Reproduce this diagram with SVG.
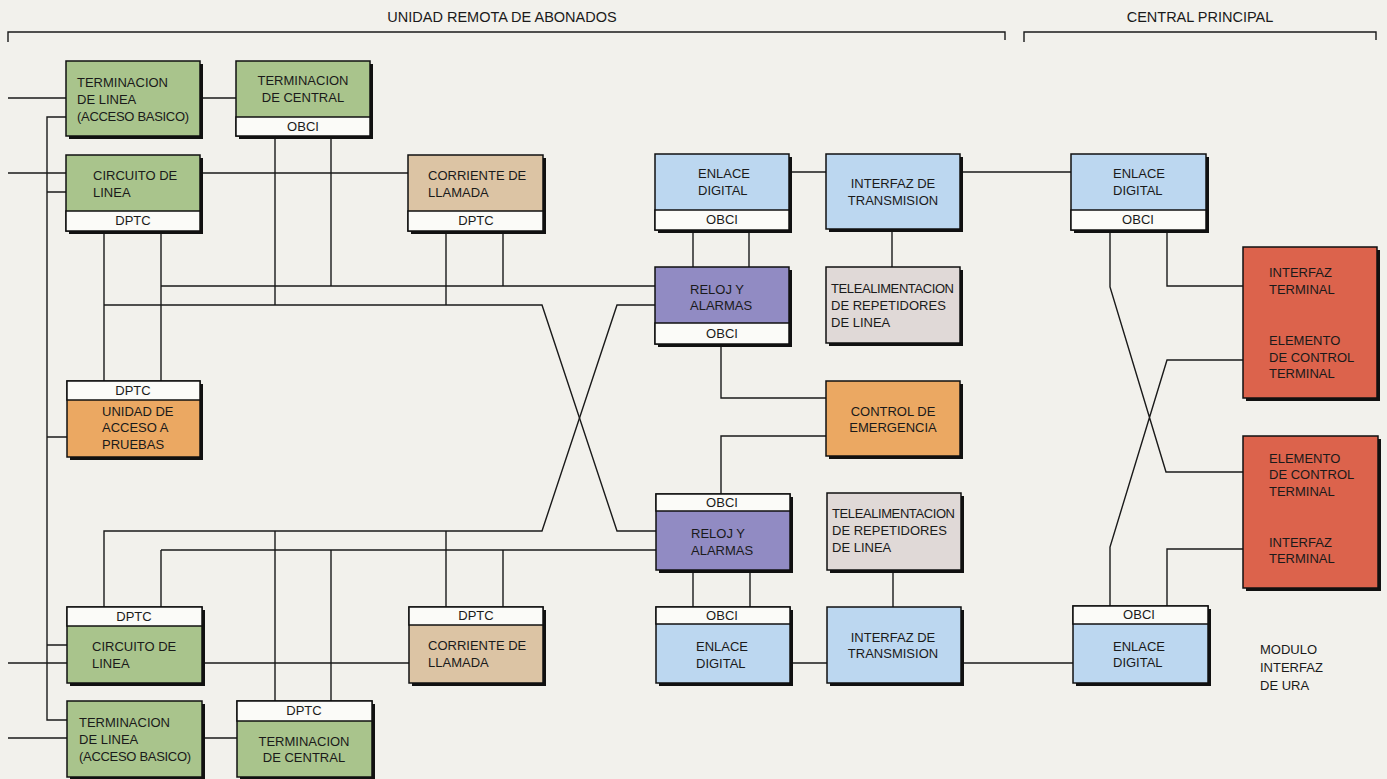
<svg xmlns="http://www.w3.org/2000/svg" width="1387" height="779" viewBox="0 0 1387 779">
<style>
.sh{fill:#111}
.bx{stroke:#111;stroke-width:1.5}
.st{fill:#fbfbf8;stroke:#111;stroke-width:1.5}
.gr{fill:#a9c48c}.tn{fill:#dcc4a4}.bl{fill:#bcd7f0}.pu{fill:#918bc3}.gy{fill:#e0d9d7}.or{fill:#eba862}.rd{fill:#dc634c}
.t{font-family:'Liberation Sans',Arial,sans-serif;font-size:13px;fill:#1a1a1a}
.c{text-anchor:middle}
.h{font-family:'Liberation Sans',Arial,sans-serif;font-size:14.5px;fill:#1a1a1a}
.ln{fill:none;stroke:#1a1a1a;stroke-width:1.4}
</style>
<rect width="1387" height="779" fill="#f2f1ec"/>

<g id="headers">
<path class="ln" d="M8 42V32H1005V40M1024 42V32H1376V40" stroke-width="1.8"/>
<text class="h c" x="502" y="22">UNIDAD REMOTA DE ABONADOS</text>
<text class="h c" x="1200" y="22">CENTRAL PRINCIPAL</text>
</g>

<g id="connectors" class="ln">
<path d="M8 98H66M200 98H236M8 173H66M200 173H408"/>
<path d="M66 117H47V720H67M47 192H66M47 437H67M47 645H67"/>
<path d="M104 231V381M161 231V381"/>
<path d="M104 305H542L617 531H656"/>
<path d="M655 305H617L542 531H104V607"/>
<path d="M161 286H655M161 550H656M161 550V607"/>
<path d="M275 136V305M331 136V286M446 231V305M503 231V286"/>
<path d="M275 531V701M331 550V701M446 531V607M503 550V607"/>
<path d="M8 663H67M202 663H409M8 738H67M202 738H237"/>
<path d="M693 230V267M749 230V267M789 172H826M892 229V267M960 172H1071"/>
<path d="M721 344V398H826M826 436H721V494"/>
<path d="M693 570V607M750 570V607M893 570V607M790 663H827M961 663H1073"/>
<path d="M1167 230V286H1243M1110 230V287L1166 472H1243M1243 360H1167L1110 547V606M1243 549H1167V606"/>
</g>

<g id="n1">
<rect class="sh" x="69" y="64" width="134" height="75"/>
<rect class="bx gr" x="66" y="61" width="134" height="75"/>
<text class="t" x="77" y="87">TERMINACION</text>
<text class="t" x="77" y="104">DE LINEA</text>
<text class="t" x="77" y="121" letter-spacing="-0.3">(ACCESO BASICO)</text>
</g>
<g id="n2">
<rect class="sh" x="239" y="64" width="134" height="75"/>
<rect class="bx gr" x="236" y="61" width="134" height="75"/>
<rect class="st" x="236" y="117" width="134" height="19"/>
<text class="t c" x="303" y="85">TERMINACION</text>
<text class="t c" x="303" y="102">DE CENTRAL</text>
<text class="t c" x="303" y="131">OBCI</text>
</g>
<g id="n3">
<rect class="sh" x="69" y="158" width="134" height="76"/>
<rect class="bx gr" x="66" y="155" width="134" height="76"/>
<rect class="st" x="66" y="211" width="134" height="20"/>
<text class="t" x="93" y="180">CIRCUITO DE</text>
<text class="t" x="93" y="197">LINEA</text>
<text class="t c" x="133" y="225">DPTC</text>
</g>
<g id="n4">
<rect class="sh" x="411" y="158" width="135" height="76"/>
<rect class="bx tn" x="408" y="155" width="135" height="76"/>
<rect class="st" x="408" y="211" width="135" height="20"/>
<text class="t" x="428" y="180">CORRIENTE DE</text>
<text class="t" x="428" y="197">LLAMADA</text>
<text class="t c" x="476" y="225">DPTC</text>
</g>
<g id="n5">
<rect class="sh" x="658" y="157" width="134" height="76"/>
<rect class="bx bl" x="655" y="154" width="134" height="76"/>
<rect class="st" x="655" y="210" width="134" height="20"/>
<text class="t" x="698" y="178">ENLACE</text>
<text class="t" x="698" y="195">DIGITAL</text>
<text class="t c" x="722" y="224">OBCI</text>
</g>
<g id="n6">
<rect class="sh" x="829" y="157" width="134" height="75"/>
<rect class="bx bl" x="826" y="154" width="134" height="75"/>
<text class="t c" x="893" y="188">INTERFAZ DE</text>
<text class="t c" x="893" y="205">TRANSMISION</text>
</g>
<g id="n7">
<rect class="sh" x="1074" y="157" width="135" height="76"/>
<rect class="bx bl" x="1071" y="154" width="135" height="76"/>
<rect class="st" x="1071" y="210" width="135" height="20"/>
<text class="t" x="1113" y="178">ENLACE</text>
<text class="t" x="1113" y="195">DIGITAL</text>
<text class="t c" x="1138" y="224">OBCI</text>
</g>
<g id="n8">
<rect class="sh" x="658" y="270" width="134" height="77"/>
<rect class="bx pu" x="655" y="267" width="134" height="77"/>
<rect class="st" x="655" y="323" width="134" height="21"/>
<text class="t" x="690" y="294">RELOJ Y</text>
<text class="t" x="690" y="310">ALARMAS</text>
<text class="t c" x="722" y="338">OBCI</text>
</g>
<g id="n9">
<rect class="sh" x="829" y="270" width="134" height="76"/>
<rect class="bx gy" x="826" y="267" width="134" height="76"/>
<text class="t" x="831" y="293" textLength="123">TELEALIMENTACION</text>
<text class="t" x="831" y="310">DE REPETIDORES</text>
<text class="t" x="831" y="327">DE LINEA</text>
</g>
<g id="n10">
<rect class="sh" x="1246" y="250" width="134" height="151"/>
<rect class="bx rd" x="1243" y="247" width="134" height="151"/>
<text class="t" x="1269" y="277">INTERFAZ</text>
<text class="t" x="1269" y="294">TERMINAL</text>
<text class="t" x="1269" y="345">ELEMENTO</text>
<text class="t" x="1269" y="362">DE CONTROL</text>
<text class="t" x="1269" y="378">TERMINAL</text>
</g>
<g id="n11">
<rect class="sh" x="70" y="384" width="133" height="76"/>
<rect class="bx or" x="67" y="381" width="133" height="76"/>
<rect class="st" x="67" y="381" width="133" height="19"/>
<text class="t c" x="133" y="395">DPTC</text>
<text class="t" x="102" y="416">UNIDAD DE</text>
<text class="t" x="102" y="432">ACCESO A</text>
<text class="t" x="102" y="449">PRUEBAS</text>
</g>
<g id="n12">
<rect class="sh" x="829" y="384" width="134" height="75"/>
<rect class="bx or" x="826" y="381" width="134" height="75"/>
<text class="t c" x="893" y="416">CONTROL DE</text>
<text class="t c" x="893" y="432">EMERGENCIA</text>
</g>
<g id="n13">
<rect class="sh" x="659" y="497" width="134" height="76"/>
<rect class="bx pu" x="656" y="494" width="134" height="76"/>
<rect class="st" x="656" y="494" width="134" height="17"/>
<text class="t c" x="722" y="507">OBCI</text>
<text class="t" x="691" y="538">RELOJ Y</text>
<text class="t" x="691" y="555">ALARMAS</text>
</g>
<g id="n14">
<rect class="sh" x="830" y="496" width="134" height="77"/>
<rect class="bx gy" x="827" y="493" width="134" height="77"/>
<text class="t" x="832" y="518" textLength="123">TELEALIMENTACION</text>
<text class="t" x="832" y="535">DE REPETIDORES</text>
<text class="t" x="832" y="552">DE LINEA</text>
</g>
<g id="n15">
<rect class="sh" x="659" y="610" width="134" height="76"/>
<rect class="bx bl" x="656" y="607" width="134" height="76"/>
<rect class="st" x="656" y="607" width="134" height="17"/>
<text class="t c" x="722" y="620">OBCI</text>
<text class="t" x="696" y="651">ENLACE</text>
<text class="t" x="696" y="668">DIGITAL</text>
</g>
<g id="n16">
<rect class="sh" x="830" y="610" width="134" height="76"/>
<rect class="bx bl" x="827" y="607" width="134" height="76"/>
<text class="t c" x="893" y="642">INTERFAZ DE</text>
<text class="t c" x="893" y="658">TRANSMISION</text>
</g>
<g id="n17">
<rect class="sh" x="1246" y="439" width="135" height="152"/>
<rect class="bx rd" x="1243" y="436" width="135" height="152"/>
<text class="t" x="1269" y="463">ELEMENTO</text>
<text class="t" x="1269" y="479">DE CONTROL</text>
<text class="t" x="1269" y="496">TERMINAL</text>
<text class="t" x="1269" y="547">INTERFAZ</text>
<text class="t" x="1269" y="563">TERMINAL</text>
</g>
<g id="n18">
<rect class="sh" x="1076" y="609" width="135" height="77"/>
<rect class="bx bl" x="1073" y="606" width="135" height="77"/>
<rect class="st" x="1073" y="606" width="135" height="18"/>
<text class="t c" x="1139" y="619">OBCI</text>
<text class="t" x="1113" y="651">ENLACE</text>
<text class="t" x="1113" y="667">DIGITAL</text>
</g>
<g id="n19">
<rect class="sh" x="70" y="610" width="135" height="76"/>
<rect class="bx gr" x="67" y="607" width="135" height="76"/>
<rect class="st" x="67" y="607" width="135" height="19"/>
<text class="t c" x="134" y="621">DPTC</text>
<text class="t" x="92" y="651">CIRCUITO DE</text>
<text class="t" x="92" y="668">LINEA</text>
</g>
<g id="n20">
<rect class="sh" x="70" y="704" width="135" height="76"/>
<rect class="bx gr" x="67" y="701" width="135" height="76"/>
<text class="t" x="79" y="727">TERMINACION</text>
<text class="t" x="79" y="744">DE LINEA</text>
<text class="t" x="79" y="761" letter-spacing="-0.3">(ACCESO BASICO)</text>
</g>
<g id="n21">
<rect class="sh" x="240" y="704" width="135" height="76"/>
<rect class="bx gr" x="237" y="701" width="135" height="76"/>
<rect class="st" x="237" y="701" width="135" height="20"/>
<text class="t c" x="304" y="715">DPTC</text>
<text class="t c" x="304" y="746">TERMINACION</text>
<text class="t c" x="304" y="762">DE CENTRAL</text>
</g>
<g id="n22">
<rect class="sh" x="412" y="610" width="134" height="76"/>
<rect class="bx tn" x="409" y="607" width="134" height="76"/>
<rect class="st" x="409" y="607" width="134" height="18"/>
<text class="t c" x="476" y="620">DPTC</text>
<text class="t" x="428" y="650">CORRIENTE DE</text>
<text class="t" x="428" y="667">LLAMADA</text>
</g>
<g id="module-label">
<text class="t" x="1260" y="654" font-size="14">MODULO</text>
<text class="t" x="1260" y="672" font-size="14">INTERFAZ</text>
<text class="t" x="1260" y="690" font-size="14">DE URA</text>
</g>
</svg>
